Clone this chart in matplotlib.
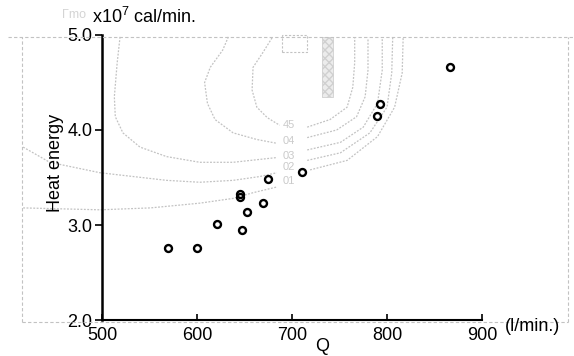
import matplotlib
matplotlib.use("Agg")
import matplotlib.pyplot as plt
from matplotlib.lines import Line2D
from matplotlib.patches import Rectangle

# measured points: Q (l/min) vs heat energy (x10^7 cal/min)
q = [570, 600, 621, 647, 653, 645, 645, 670, 675, 711, 793, 790, 866]
heat = [2.76, 2.76, 3.01, 2.95, 3.14, 3.33, 3.29, 3.23, 3.48, 3.56, 4.27, 4.15, 4.66]

x_ticks = [500, 600, 700, 800, 900]
y_ticks = [2.0, 3.0, 4.0, 5.0]
y_ticklabels = ["2.0", "3.0", "4.0", "5.0"]

# faint show-through contours from the back of the page (left / right of label)
c10_l = ([417, 498, 551, 603, 638, 659, 684], [3.18, 3.16, 3.18, 3.23, 3.28, 3.34, 3.40])
c10_r = ([719, 758, 790, 808, 816, 817], [3.58, 3.68, 3.93, 4.24, 4.60, 4.97])
c20_l = ([417, 445, 498, 533, 568, 603, 638, 666, 684],
         [3.82, 3.66, 3.55, 3.51, 3.47, 3.45, 3.47, 3.51, 3.55])
c20_r = ([716, 751, 782, 800, 805, 806], [3.68, 3.76, 3.97, 4.24, 4.60, 4.97])
c30_l = ([519, 516, 513, 514, 522, 540, 568, 603, 638, 684],
         [4.98, 4.71, 4.35, 4.14, 3.97, 3.82, 3.72, 3.66, 3.66, 3.71])
c30_r = ([716, 751, 775, 790, 795, 795], [3.79, 3.87, 4.03, 4.28, 4.63, 4.97])
c40_l = ([633, 627, 614, 608, 611, 619, 638, 663, 684],
         [4.98, 4.84, 4.66, 4.50, 4.28, 4.11, 3.97, 3.90, 3.86])
c40_r = ([716, 747, 768, 777, 780, 780], [3.92, 4.00, 4.14, 4.35, 4.63, 4.97])
c45_l = ([679, 669, 659, 658, 663, 674, 687], [4.97, 4.81, 4.66, 4.42, 4.24, 4.13, 4.05])
c45_r = ([716, 740, 758, 764, 766, 766], [4.03, 4.11, 4.24, 4.45, 4.71, 4.97])
contour_labels = ["45", "04", "03", "02", "01"]
contour_label_y = [4.05, 3.88, 3.73, 3.61, 3.46]
contour_label_x = 697

plt.rcParams["font.family"] = ["Liberation Sans", "DejaVu Sans"]
plt.rcParams["mathtext.fontset"] = "custom"
plt.rcParams["mathtext.rm"] = "Liberation Sans"

fantasma = "#c2c2c2"

fig = plt.figure(figsize=(5.74, 3.56), dpi=100)
ax = fig.add_axes([0.1777, 0.1011, 0.662, 0.8006])

# ghost frame from the other side of the sheet
tracejado = dict(color=fantasma, lw=0.8, ls=(0, (3, 2)))
fig.add_artist(Line2D([0.014, 1.0], [0.897, 0.897], **tracejado))
fig.add_artist(Line2D([0.038, 0.038], [0.095, 0.897], **tracejado))
fig.add_artist(Line2D([0.038, 0.99], [0.095, 0.095], **tracejado))
fig.add_artist(Line2D([0.99, 0.99], [0.095, 0.897], **tracejado))

for xs, ys in [c10_l, c10_r, c20_l, c20_r, c30_l, c30_r, c40_l, c40_r, c45_l, c45_r]:
    ax.plot(xs, ys, color=fantasma, lw=0.9, ls=(0, (1.5, 1.2)), clip_on=False, zorder=1)
for txt, yy in zip(contour_labels, contour_label_y):
    ax.text(contour_label_x, yy, txt, color="#cacaca", fontsize=8,
            ha="center", va="center", zorder=1)
ax.add_patch(Rectangle((690, 4.82), 26, 0.18, fill=False, ec=fantasma, lw=0.8,
                       ls=(0, (2, 1.5)), clip_on=False))
ax.add_patch(Rectangle((732, 4.35), 11, 0.63, fill=True, fc="#ececec", ec="#d0d0d0",
                       lw=0.6, hatch="xxxx", clip_on=False))

ax.plot(q, heat, "o", ms=5, mfc="none", mec="black", mew=1.7, zorder=3, clip_on=False)

ax.set_xlim(500, 900)
ax.set_ylim(2.0, 5.0)
ax.set_xticks(x_ticks)
ax.set_yticks(y_ticks)
ax.set_yticklabels(y_ticklabels)
ax.spines["top"].set_visible(False)
ax.spines["right"].set_visible(False)
ax.spines["left"].set_linewidth(1.8)
ax.spines["bottom"].set_linewidth(1.5)
ax.tick_params(axis="x", direction="in", length=4, width=1.2, pad=5, labelsize=13)
ax.tick_params(axis="y", direction="out", length=5, width=1.2, pad=2, labelsize=13)
ax.patch.set_alpha(0)

fig.text(0.097, 0.542, "Heat energy", rotation=90, ha="center", va="center", fontsize=13)
fig.text(0.16, 0.952, "x10$^7$ cal/min.", ha="left", va="center", fontsize=13)
fig.text(0.108, 0.958, "Γmo", ha="left", va="center", fontsize=9, color="#d4d4d4")
fig.text(0.927, 0.082, "(l/min.)", ha="center", va="center", fontsize=13)
fig.text(0.561, 0.028, "Q", ha="center", va="center", fontsize=13)

plt.savefig("out.png", dpi=100)
